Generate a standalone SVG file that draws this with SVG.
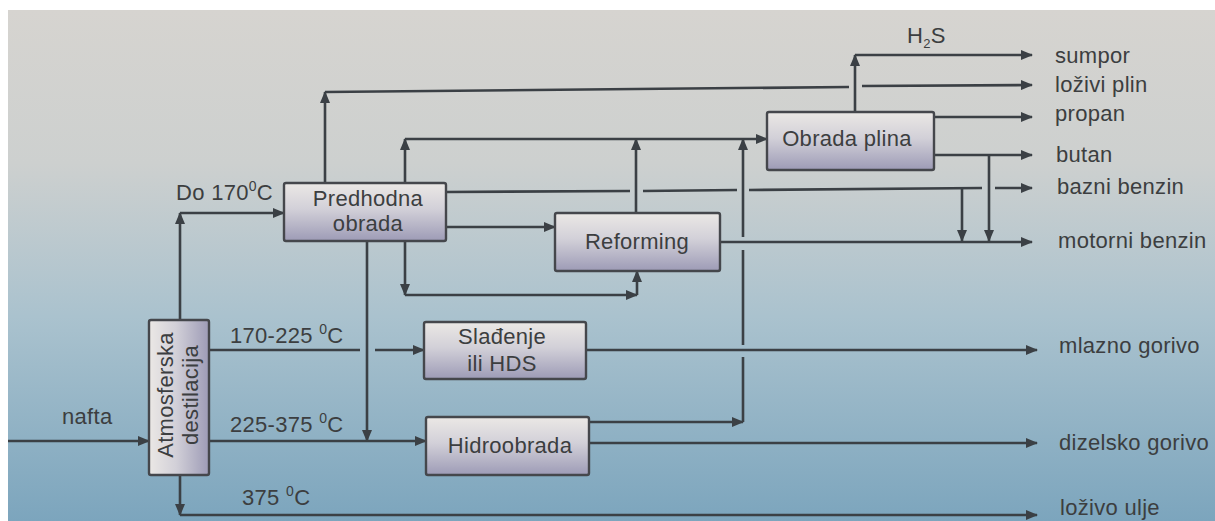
<svg xmlns="http://www.w3.org/2000/svg" width="1215" height="521" viewBox="0 0 1215 521">
<style>
.ln{fill:none;stroke:#3b4045;stroke-width:2.6}
.ar{marker-end:url(#ah)}
.bx rect{stroke:#45474c;stroke-width:2.4}
text{font-family:"Liberation Sans",Arial,sans-serif;font-size:22px;fill:#3c3e40;letter-spacing:0.3px}
.c{text-anchor:middle}
</style>
<defs>
<linearGradient id="bg" x1="0" y1="0" x2="0" y2="1">
<stop offset="0" stop-color="#d6d4d0"/>
<stop offset="0.3" stop-color="#cdd0cf"/>
<stop offset="0.6" stop-color="#aac2ce"/>
<stop offset="1" stop-color="#7ca5bd"/>
</linearGradient>
<linearGradient id="bxg" x1="0" y1="0" x2="0" y2="1">
<stop offset="0" stop-color="#ebe8e5"/>
<stop offset="0.45" stop-color="#d2d0d8"/>
<stop offset="1" stop-color="#9d9bb6"/>
</linearGradient>
<linearGradient id="bxh" x1="0" y1="0" x2="1" y2="0">
<stop offset="0" stop-color="#ebe8e5"/>
<stop offset="0.45" stop-color="#d2d0d8"/>
<stop offset="1" stop-color="#9d9bb6"/>
</linearGradient>
<marker id="ah" viewBox="0 0 12 10" refX="11" refY="5" markerWidth="12" markerHeight="10" markerUnits="userSpaceOnUse" orient="auto">
<path d="M0,0 L12,5 L0,10 z" fill="#3b4045"/>
</marker>
</defs>
<rect x="0" y="0" width="1215" height="521" fill="#ffffff"/>
<rect x="8" y="10" width="1207" height="511" fill="url(#bg)"/>

<g id="connectors">
<path class="ln ar" d="M8,441 H149"/>
<path class="ln ar" d="M180,320 V213"/>
<path class="ln ar" d="M180,213 H284"/>
<path class="ln" d="M209,350 H360"/>
<path class="ln ar" d="M375,350 H424"/>
<path class="ln ar" d="M209,441 H426"/>
<path class="ln ar" d="M180,475 V515"/>
<path class="ln ar" d="M180,515 H1037"/>
<path class="ln ar" d="M325,183 V92"/>
<path class="ln" d="M325,92 L849,87"/>
<path class="ln ar" d="M862,86 L1032,85"/>
<path class="ln ar" d="M855,112 V55"/>
<path class="ln ar" d="M855,55 H1032"/>
<path class="ln ar" d="M405,183 V139"/>
<path class="ln ar" d="M405,139 H767"/>
<path class="ln ar" d="M636,213 V139"/>
<path class="ln ar" d="M589,422 H743"/>
<path class="ln" d="M743,422 V357"/>
<path class="ln" d="M743,345 V250"/>
<path class="ln ar" d="M743,237 V139"/>
<path class="ln ar" d="M446,227 H555"/>
<path class="ln" d="M446,192 L630,191 M643,191 L737,190 M749,190 L982,188"/>
<path class="ln ar" d="M995,188 H1032"/>
<path class="ln ar" d="M962,188 V241"/>
<path class="ln ar" d="M934,117 H1032"/>
<path class="ln ar" d="M934,155 H1032"/>
<path class="ln ar" d="M989,155 V241"/>
<path class="ln ar" d="M720,242 H1032"/>
<path class="ln ar" d="M367,241 V441"/>
<path class="ln ar" d="M405,241 V295"/>
<path class="ln ar" d="M405,295 H637"/>
<path class="ln ar" d="M637,295 V271"/>
<path class="ln ar" d="M586,350 H1037"/>
<path class="ln ar" d="M589,443 H1037"/>
</g>

<g id="atm" class="bx">
<rect x="149" y="320" width="60" height="155" rx="2" fill="url(#bxh)"/>
<text class="c" transform="translate(173,395) rotate(-90)">Atmosferska</text>
<text class="c" transform="translate(198,395) rotate(-90)">destilacija</text>
</g>
<g id="predhodna" class="bx">
<rect x="284" y="183" width="162" height="58" rx="2" fill="url(#bxg)"/>
<text class="c" x="368" y="206">Predhodna</text>
<text class="c" x="368" y="231">obrada</text>
</g>
<g id="reforming" class="bx">
<rect x="555" y="213" width="165" height="58" rx="2" fill="url(#bxg)"/>
<text class="c" x="637" y="249">Reforming</text>
</g>
<g id="obrada-plina" class="bx">
<rect x="767" y="112" width="167" height="58" rx="2" fill="url(#bxg)"/>
<text class="c" x="847" y="146">Obrada plina</text>
</g>
<g id="sladenje" class="bx">
<rect x="424" y="322" width="162" height="57" rx="2" fill="url(#bxg)"/>
<text class="c" x="502" y="344">Slađenje</text>
<text class="c" x="502" y="371">ili HDS</text>
</g>
<g id="hidroobrada" class="bx">
<rect x="426" y="417" width="163" height="58" rx="2" fill="url(#bxg)"/>
<text class="c" x="510" y="453">Hidroobrada</text>
</g>

<g id="labels">
<text x="62" y="424">nafta</text>
<text x="176" y="200">Do 170<tspan font-size="14" dy="-9">0</tspan><tspan dy="9">C</tspan></text>
<text x="230" y="343">170-225 <tspan font-size="14" dy="-9">0</tspan><tspan dy="9">C</tspan></text>
<text x="230" y="432">225-375 <tspan font-size="14" dy="-9">0</tspan><tspan dy="9">C</tspan></text>
<text x="242" y="505">375 <tspan font-size="14" dy="-9">0</tspan><tspan dy="9">C</tspan></text>
<text x="907" y="43">H<tspan font-size="13" dy="5">2</tspan><tspan dy="-5">S</tspan></text>
<text x="1055" y="63">sumpor</text>
<text x="1055" y="92">loživi plin</text>
<text x="1055" y="121">propan</text>
<text x="1056" y="162">butan</text>
<text x="1057" y="194">bazni benzin</text>
<text x="1058" y="248">motorni benzin</text>
<text x="1059" y="353">mlazno gorivo</text>
<text x="1059" y="450">dizelsko gorivo</text>
<text x="1060" y="515" font-size="20">loživo ulje</text>
</g>
</svg>
